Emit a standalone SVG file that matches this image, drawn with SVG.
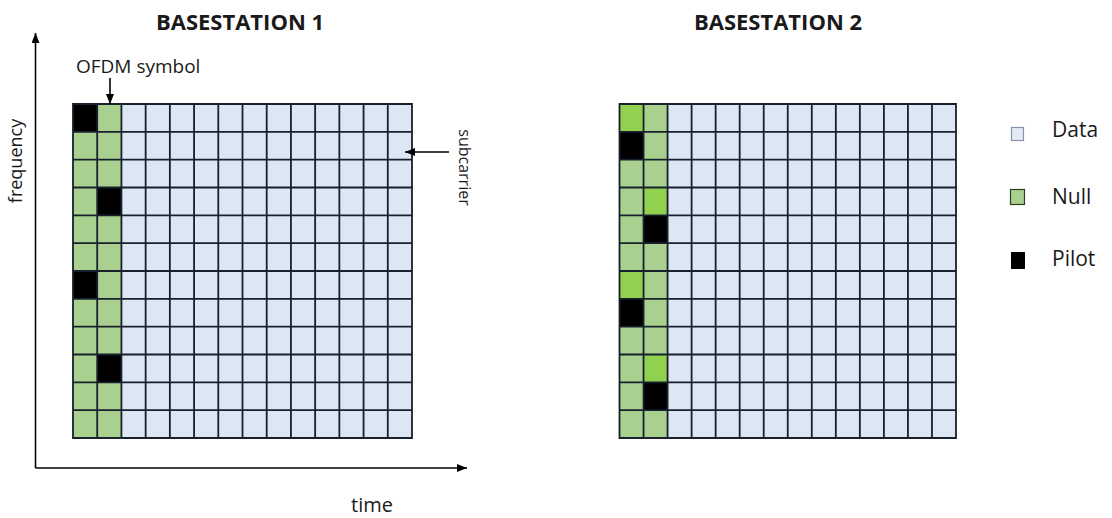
<svg xmlns="http://www.w3.org/2000/svg" width="1112" height="518" viewBox="0 0 1112 518">
<style>
.data{fill:#dde7f3}
.null{fill:#a9d08e}
.bright{fill:#92d050}
.pilot{fill:#000}
.lines{fill:none;stroke:#17202c;stroke-width:1.8}
.title{font-family:"Open Sans","Liberation Sans",sans-serif;font-weight:bold;font-size:22px;fill:#1a1a1a;text-anchor:middle}
.lbl{font-family:"Open Sans","Liberation Sans",sans-serif;font-size:19px;fill:#1a1a1a}
.leg{font-family:"Open Sans","Liberation Sans",sans-serif;font-size:21px;fill:#1a1a1a}
.conn{fill:none;stroke:#000;stroke-width:1.6}
</style>
<defs>
<marker id="arr" markerUnits="userSpaceOnUse" markerWidth="10" markerHeight="8" refX="10" refY="4" orient="auto">
<path d="M0,0 L10,4 L0,8 z" fill="#000"/>
</marker>
</defs>
<rect width="1112" height="518" fill="#fff"/>

<g id="title1"><text class="title" x="240" y="29.5">BASESTATION 1</text></g>
<g id="title2"><text class="title" x="778" y="29.5">BASESTATION 2</text></g>

<g id="grid-bs1">
<rect class="data" x="73" y="104" width="339" height="334"/>
<rect class="null" x="73" y="104" width="48.43" height="334"/>
<rect class="pilot" x="73" y="104" width="24.21" height="27.83"/>
<rect class="pilot" x="97.21" y="187.5" width="24.21" height="27.83"/>
<rect class="pilot" x="73" y="271" width="24.21" height="27.83"/>
<rect class="pilot" x="97.21" y="354.5" width="24.21" height="27.83"/>
<path class="lines" d="M73 104H412V438H73Z M97.21 104V438M121.43 104V438M145.64 104V438M169.86 104V438M194.07 104V438M218.29 104V438M242.5 104V438M266.71 104V438M290.93 104V438M315.14 104V438M339.36 104V438M363.57 104V438M387.79 104V438 M73 131.83H412M73 159.67H412M73 187.5H412M73 215.33H412M73 243.17H412M73 271H412M73 298.83H412M73 326.67H412M73 354.5H412M73 382.33H412M73 410.17H412"/>
</g>

<g id="grid-bs2">
<rect class="data" x="619.5" y="104" width="336.5" height="334"/>
<rect class="null" x="619.5" y="104" width="48.07" height="334"/>
<rect class="bright" x="619.5" y="104" width="24.04" height="27.83"/>
<rect class="bright" x="643.54" y="187.5" width="24.04" height="27.83"/>
<rect class="bright" x="619.5" y="271" width="24.04" height="27.83"/>
<rect class="bright" x="643.54" y="354.5" width="24.04" height="27.83"/>
<rect class="pilot" x="619.5" y="131.83" width="24.04" height="27.83"/>
<rect class="pilot" x="643.54" y="215.33" width="24.04" height="27.83"/>
<rect class="pilot" x="619.5" y="298.83" width="24.04" height="27.83"/>
<rect class="pilot" x="643.54" y="382.33" width="24.04" height="27.83"/>
<path class="lines" d="M619.5 104H956V438H619.5Z M643.54 104V438M667.57 104V438M691.61 104V438M715.64 104V438M739.68 104V438M763.71 104V438M787.75 104V438M811.79 104V438M835.82 104V438M859.86 104V438M883.89 104V438M907.93 104V438M931.96 104V438 M619.5 131.83H956M619.5 159.67H956M619.5 187.5H956M619.5 215.33H956M619.5 243.17H956M619.5 271H956M619.5 298.83H956M619.5 326.67H956M619.5 354.5H956M619.5 382.33H956M619.5 410.17H956"/>
</g>

<g id="label-ofdm"><text class="lbl" x="76" y="72.5">OFDM symbol</text></g>
<g id="label-frequency"><text class="lbl" style="font-size:18px" transform="translate(22,161) rotate(-90)" text-anchor="middle">frequency</text></g>
<g id="label-subcarrier"><text class="lbl" style="font-size:16px" transform="translate(459,167.5) rotate(90)" text-anchor="middle">subcarrier</text></g>
<g id="label-time"><text class="lbl" style="font-size:20px" x="372" y="512" text-anchor="middle">time</text></g>

<g id="legend-data">
<rect x="1011.5" y="127.5" width="12" height="13" fill="#e3eaf4" stroke="#8594a8" stroke-width="1.2"/>
<text class="leg" x="1052" y="136.5">Data</text>
</g>
<g id="legend-null">
<rect x="1010.5" y="189.5" width="14" height="15" class="null" stroke="#2d4020" stroke-width="1.2"/>
<text class="leg" x="1052" y="203.5">Null</text>
</g>
<g id="legend-pilot">
<rect x="1011" y="252" width="14" height="17" class="pilot"/>
<text class="leg" x="1052" y="266">Pilot</text>
</g>

<g id="connectors">
<line class="conn" x1="35.5" y1="468" x2="35.5" y2="33" marker-end="url(#arr)"/>
<line class="conn" x1="35.5" y1="468" x2="467" y2="468" marker-end="url(#arr)"/>
<line class="conn" x1="110" y1="78" x2="110" y2="104" marker-end="url(#arr)"/>
<line class="conn" x1="449" y1="152" x2="405" y2="152" marker-end="url(#arr)"/>
</g>
</svg>
